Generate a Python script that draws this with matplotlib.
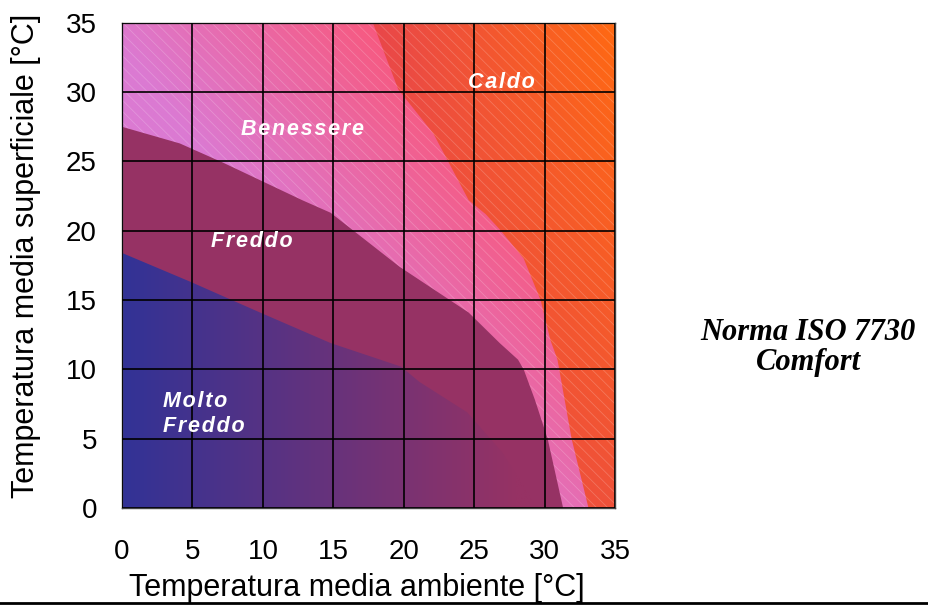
import numpy as np
import matplotlib
matplotlib.use("Agg")
import matplotlib.pyplot as plt
import matplotlib.colors as mcolors
from matplotlib.path import Path
from matplotlib.patches import PathPatch, Rectangle
from matplotlib.lines import Line2D

plt.rcParams["font.family"] = ["Liberation Sans", "DejaVu Sans"]
plt.rcParams["hatch.linewidth"] = 0.6

# ---------------------------------------------------------------------------
# Data: comfort zone boundaries (ambient temp x, mean surface temp y)
# ---------------------------------------------------------------------------
ticks = [0, 5, 10, 15, 20, 25, 30, 35]

# Molto Freddo / Freddo
molto_x = [0, 4.9, 9.8, 14.8, 19.8, 21.1, 24.5, 27.0, 29.5]
molto_y = [18.4, 16.3, 14.1, 11.9, 10.2, 9.1, 6.9, 4.0, 0.0]

# Freddo / Benessere
freddo_x = [0, 4.1, 7.2, 12.8, 14.8, 19.7, 24.6, 26.8, 28.1, 28.5, 29.3, 30.2, 31.3]
freddo_y = [27.5, 26.3, 24.9, 22.2, 21.3, 17.4, 14.1, 11.9, 10.7, 10.0, 7.8, 5.0, 0.0]

# Benessere / Caldo
caldo_x = [17.8, 19.6, 22.1, 24.6, 25.8, 26.8, 28.5, 29.7, 30.4, 30.9, 31.9, 33.1]
caldo_y = [35.0, 30.2, 27.0, 22.2, 21.2, 20.1, 18.0, 15.0, 12.1, 10.7, 5.0, 0.0]

labels = ["Caldo", "Benessere", "Freddo", "Molto\nFreddo"]
label_x = [26.9, 12.8, 9.2, 2.9]
label_y = [30.7, 27.3, 19.2, 6.8]

# colours
c_caldo = ["#E9474A", "#FF6912"]
c_bene = ["#DB7AD2", "#F8587C"]
c_freddo = "#963264"
c_molto = ["#323396", "#963264"]


def gradient(ax, t, c0, c1, clip, z):
    cmap = mcolors.LinearSegmentedColormap.from_list("g", [c0, c1])
    im = ax.imshow(cmap(np.clip(t, 0, 1)), extent=[0, 35, 0, 35], origin="lower",
                   interpolation="bilinear", zorder=z, aspect="auto")
    if clip is not None:
        im.set_clip_path(clip)
    return im


def region(ax, xs, ys, **kw):
    verts = [(0, 0)] + list(zip(xs, ys)) + [(0, 0)]
    patch = PathPatch(Path(verts, closed=True), **kw)
    ax.add_patch(patch)
    return patch


fig = plt.figure(figsize=(9.29, 6.05), dpi=100)
ax = fig.add_axes([0.1313, 0.1603, 0.531, 0.802])
ax.set_xlim(0, 35)
ax.set_ylim(0, 35)

gx, gy = np.meshgrid(np.linspace(0, 35, 300), np.linspace(0, 35, 300))

# Caldo background (whole area)
gradient(ax, (gx - 18) / 17 * (0.3 + 0.7 * gy / 35), c_caldo[0], c_caldo[1],
         None, 0.5)

# Benessere: left of the caldo boundary
p_bene = region(ax, [0] + caldo_x, [35] + caldo_y, facecolor="none",
                edgecolor="none", zorder=0.9)
gradient(ax, (1.3 * gx + gy - 33) / 26, c_bene[0], c_bene[1], p_bene, 1.0)

# fine diagonal texture over the warm zones
ax.add_patch(Rectangle((0, 0), 35, 35, facecolor="none",
                       edgecolor=(1, 1, 1, 0.2), linewidth=0,
                       hatch="\\\\\\", zorder=1.2))

# Freddo
region(ax, freddo_x, freddo_y, facecolor=c_freddo, edgecolor="none",
       zorder=1.5)

# Molto Freddo
p_molto = region(ax, molto_x, molto_y, facecolor="none",
                 edgecolor="none", zorder=1.9)
gradient(ax, gx / 28, c_molto[0], c_molto[1], p_molto, 2.0)

# labels
for txt, lx, ly in zip(labels, label_x, label_y):
    spaced = "\n".join("\u200a".join(line) for line in txt.split("\n"))
    ha = "left" if "\n" in txt else "center"
    ax.text(lx, ly, spaced, color="white", fontsize=15.5, fontweight="bold",
            fontstyle="italic", ha=ha, va="center", zorder=3,
            linespacing=1.25)

# grid and axes
ax.set_xticks(ticks)
ax.set_yticks(ticks)
ax.set_axisbelow(False)
ax.grid(True, color="black", linewidth=1.2)
ax.tick_params(length=0, labelsize=20)
ax.tick_params(axis="x", pad=22)
ax.tick_params(axis="y", pad=18)
for sp in ax.spines.values():
    sp.set_color("#444444")
    sp.set_linewidth(1.0)

ax.set_xlabel("Temperatura media ambiente [°C]", fontsize=22)
ax.set_ylabel("Temperatura media superficiale [°C]", fontsize=22)
ax.xaxis.set_label_coords(0.477, -0.133)
ax.yaxis.set_label_coords(-0.165, 0.52)

fig.text(0.87, 0.425, "Norma ISO 7730\nComfort", family="Liberation Serif",
         fontsize=22, fontweight="bold", fontstyle="italic", ha="center",
         va="center", linespacing=1.05)

fig.add_artist(Line2D([0, 1], [0.004, 0.004], color="black", linewidth=2.0,
                      transform=fig.transFigure))

fig.savefig("out.png", dpi=100)
